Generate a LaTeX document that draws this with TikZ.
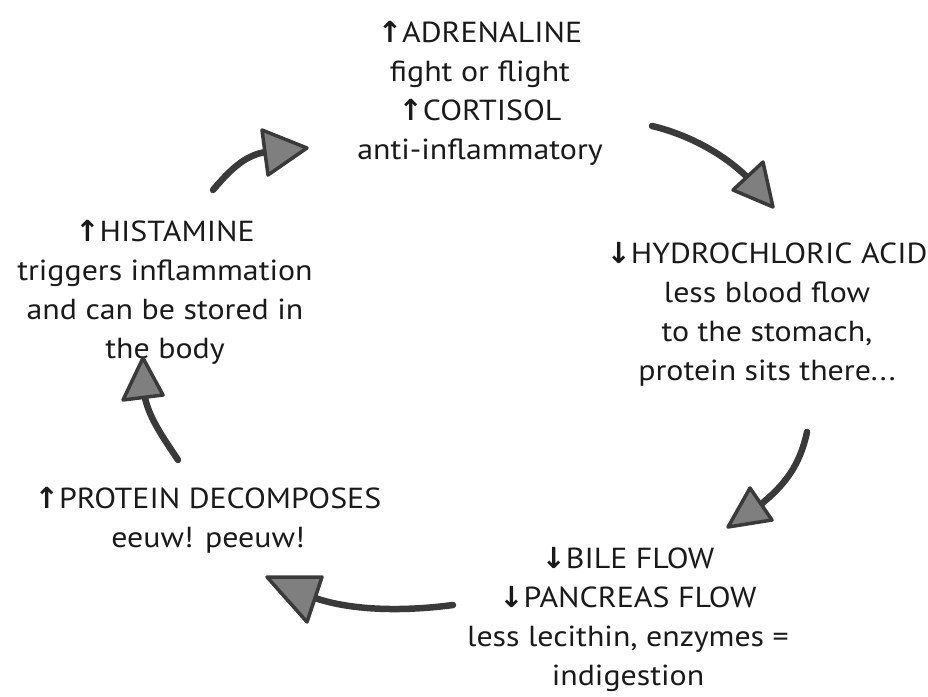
\documentclass[tikz,border=0pt]{standalone}
\usepackage{fontspec}
\setmainfont[FakeStretch=1.1]{PT Sans}
\newfontfamily\arrowfont{DejaVu Sans}
\definecolor{inkgray}{HTML}{3A3A3A}
\definecolor{textblack}{HTML}{1A1A1A}
\newcommand{\upar}{{\arrowfont\bfseries\char"2191}}
\newcommand{\dnar}{{\arrowfont\bfseries\char"2193}}
\begin{document}
\begin{tikzpicture}[x=1pt,y=-1pt,
	lbl/.style={align=center,font=\fontsize{29}{39}\selectfont,text=textblack,inner sep=0pt},
	shaft/.style={draw=inkgray,line width=6.5pt,line cap=round},
	head/.style={draw=inkgray,fill=inkgray!65,line width=3.5pt,line join=round}]
			\useasboundingbox (0,0) rectangle (928,696);
			% the five stages
			\node[lbl] (adren) at (480,93) {\upar ADRENALINE\\fight or flight\\\upar CORTISOL\\anti-inflammatory};
			\node[lbl] (acid) at (767,314) {\dnar HYDROCHLORIC ACID\\less blood flow\\to the stomach,\\protein sits there...};
			\node[lbl] (bile) at (628,619) {\dnar BILE FLOW\\\dnar PANCREAS FLOW\\less lecithin, enzymes =\\indigestion};
			\node[lbl] (protein) at (208,520) {\upar PROTEIN DECOMPOSES\\eeuw! peeuw!};
			\node[lbl] (hist) at (165,292) {\upar HISTAMINE\\triggers inflammation\\and can be stored in\\the body};
			% hand drawn arrows
			\coordinate (s1) at (652,126); \coordinate (e1) at (748,178);
			\coordinate (s2) at (807,432); \coordinate (e2) at (760,505);
			\coordinate (s3) at (453,605); \coordinate (e3) at (315,598);
			\coordinate (s4) at (178,460); \coordinate (e4) at (145,398);
			\coordinate (s5) at (213,190); \coordinate (e5) at (266,152);
			\draw[shaft] (s1) .. controls (690,135) and (725,155) .. (e1);
			\draw[head] (763,162) -- (773,207) -- (733,190) -- cycle;
			\draw[shaft] (s2) .. controls (800,465) and (785,485) .. (e2);
			\draw[head] (750,488) -- (728,527) -- (772,520) -- cycle;
			\draw[shaft] (s3) .. controls (400,612) and (350,610) .. (e3);
			\draw[head] (322,577) -- (267,577) -- (307,622) -- cycle;
			\draw[shaft] (s4) .. controls (165,440) and (150,420) .. (e4);
			\draw[head] (163,395) -- (143,358) -- (123,400) -- cycle;
			\draw[shaft] (s5) .. controls (230,170) and (245,155) .. (e5);
			\draw[head] (262,130) -- (307,148) -- (268,175) -- cycle;
\end{tikzpicture}
\end{document}
